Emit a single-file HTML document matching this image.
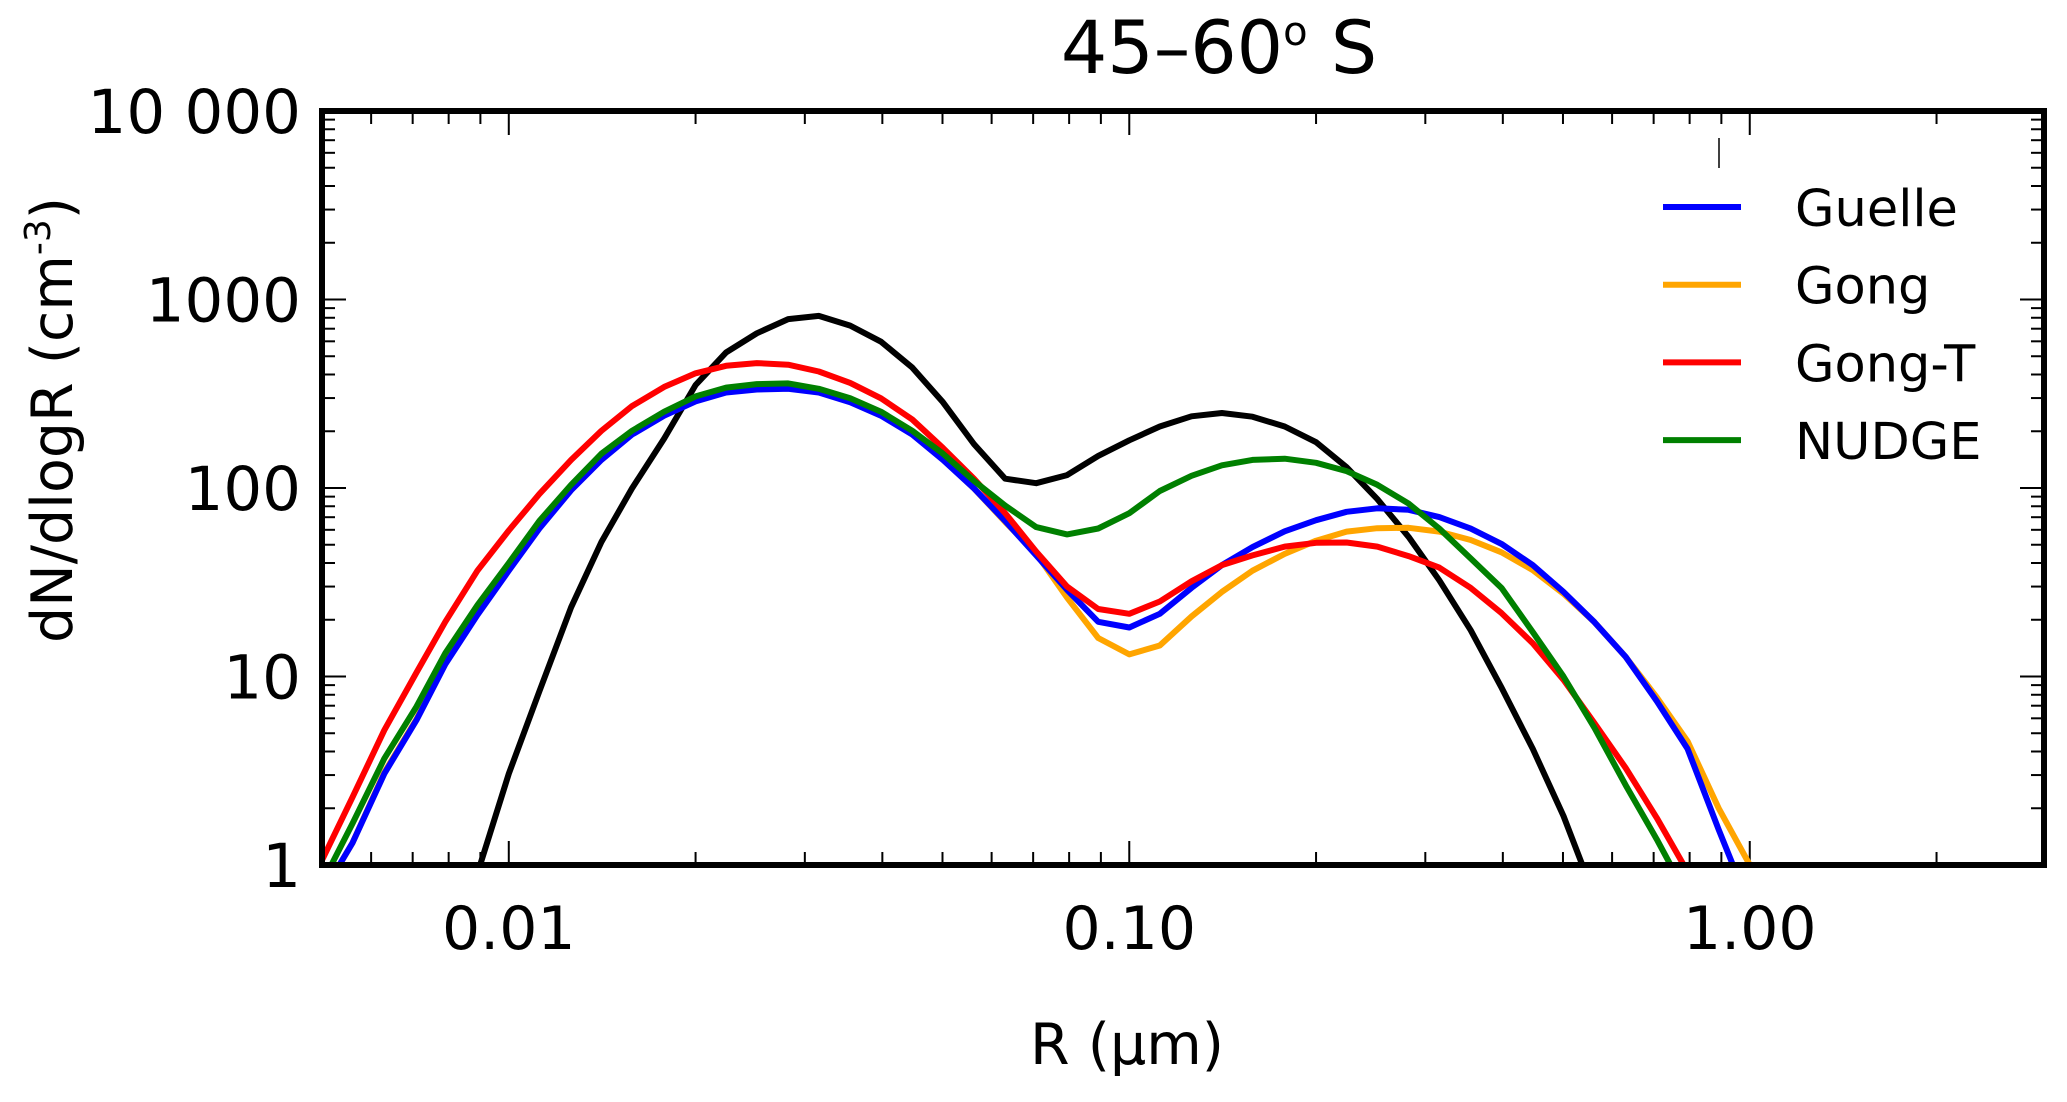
<!DOCTYPE html>
<html><head><meta charset="utf-8"><style>
html,body{margin:0;padding:0;background:#fff;}
svg text{font-family:"DejaVu Sans","Liberation Sans",sans-serif;fill:#000;}
</style></head><body>
<svg id="chart" width="2067" height="1097" viewBox="0 0 2067 1097" xmlns="http://www.w3.org/2000/svg">
<text x="1219" y="73" font-size="73" text-anchor="middle">45–60<tspan font-size="40" dy="-28">o</tspan><tspan dy="28"> S</tspan></text>
<text transform="translate(72,420) rotate(-90)" font-size="57" text-anchor="middle">dN/dlogR (cm<tspan font-size="36" dy="-22">-3</tspan><tspan dy="22">)</tspan></text>
<text x="1127" y="1064" font-size="57" text-anchor="middle">R (μm)</text>
<g id="ticks"></g>
<defs><clipPath id="pc"><rect x="322" y="111" width="1722" height="754"/></clipPath></defs>
<g id="lines" clip-path="url(#pc)"></g>
<rect x="322" y="111" width="1722" height="754" fill="none" stroke="#000" stroke-width="6"/>
<line x1="1719" y1="138" x2="1719" y2="168" stroke="#000" stroke-width="1.5"/>
<g id="legend"></g>
</svg>
<script>
const radius = [0.0050,0.0056,0.0063,0.0071,0.0079,0.0089,0.0100,0.0112,0.0126,0.0141,0.0158,0.0178,0.0200,0.0224,0.0251,0.0282,0.0316,0.0355,0.0398,0.0447,0.0501,0.0562,0.0631,0.0708,0.0794,0.0891,0.100,0.112,0.126,0.141,0.158,0.178,0.200,0.224,0.251,0.282,0.316,0.355,0.398,0.447,0.501,0.562,0.631,0.708,0.794,0.891,1.00];
const observed = [null,null,null,null,null,0.9,3.05,8.33,23.3,51.7,99.5,183,352,524,662,787,818,727,597,435,285,171,112,106,117,148,179,212,240,250,239,212,175,129,87.3,55,32.4,17.6,8.73,4.13,1.82,0.68,null,null,null,null,null];
const guelle = [0.7,1.31,3.05,5.87,11.6,21.2,36.4,60.9,97.2,141,192,242,288,321,333,336,321,285,242,192,141,99.5,66.8,43.9,28.8,19.5,18.2,21.5,29.5,39,48.6,58.9,67.5,74.8,78,76.6,70.1,60.9,50.5,39,28.1,19.4,12.7,7.41,4.13,1.54,0.6];
const gong = [0.7,1.31,3.1,5.95,11.8,21.6,37,62,99,144,196,248,295,330,343,346,330,292,246,194,142,99.5,66,44.9,26.2,16,13.1,14.6,20.8,28.1,36.4,44.7,52.5,58.7,61.2,61.5,58.7,53,45.6,36.7,27.5,19.4,12.7,7.77,4.53,2.0,1.0];
const gongT = [1.06,2.29,5.19,10.5,19.5,36.4,59.5,92.8,141,201,272,344,406,445,460,451,415,361,299,231,163,112,73.5,46,30,22.8,21.5,25,32,39,43.9,48.9,51.2,51.4,48.9,43.5,37.8,29.5,21.7,15,9.6,5.65,3.27,1.78,0.92,null,null];
const nudge = [0.8,1.66,3.67,6.92,13.3,23.9,40,66.8,104,152,201,254,306,341,356,359,336,299,254,201,152,109,80.7,62,56.7,61,73.5,96.4,116,132,141,143,136,123,104,82.6,60.9,42.3,29.5,17.2,10,5.34,2.65,1.37,0.68,null,null];
const seriesNames = ["Guelle","Gong","Gong-T","NUDGE"];
const xTickValues = [0.01,0.1,1];
const xTickLabels = ["0.01","0.10","1.00"];
const yTickValues = [1,10,100,1000,10000];
const yTickLabels = ["1","10","100","1000","10 000"];

const L=322,R=2044,T=111,B=865;
const xMin=Math.log10(0.005), xMax=Math.log10(2.98);
const yMin=0, yMax=4;
function xs(v){return L+(Math.log10(v)-xMin)/(xMax-xMin)*(R-L);}
function ys(v){return B-(Math.log10(v)-yMin)/(yMax-yMin)*(B-T);}
const NS="http://www.w3.org/2000/svg";
function mk(tag,attrs,parent){const e=document.createElementNS(NS,tag);for(const k in attrs)e.setAttribute(k,attrs[k]);parent.appendChild(e);return e;}

const tg=document.getElementById('ticks');
for(let d=-3; d<=0; d++){
  for(let m=1;m<=9;m++){
    const v=m*Math.pow(10,d);
    if(v<0.005||v>2.98) continue;
    const x=xs(v), len=(m===1)?24:13;
    const t1=mk('line',{x1:x,y1:B,x2:x,y2:B-len,stroke:'#000','stroke-width':2},tg);
    
    
    const t2=mk('line',{x1:x,y1:T,x2:x,y2:T+len,stroke:'#000','stroke-width':2},tg);
    
    
  }
}
xTickValues.forEach((v,i)=>{
  const t=mk('text',{x:xs(v),y:949,'font-size':60,'text-anchor':'middle'},tg);
  t.textContent=xTickLabels[i];
  
  
});
for(let d=0; d<4; d++){
  for(let m=1;m<=9;m++){
    const v=m*Math.pow(10,d);
    const y=ys(v), len=(m===1)?24:13;
    const t1=mk('line',{x1:L,y1:y,x2:L+len,y2:y,stroke:'#000','stroke-width':2},tg);
    
    
    const t2=mk('line',{x1:R,y1:y,x2:R-len,y2:y,stroke:'#000','stroke-width':2},tg);
    
    
  }
}
yTickValues.forEach((v,i)=>{
  const t=mk('text',{x:301,y:ys(v)+22,'font-size':61,'text-anchor':'end'},tg);
  t.textContent=yTickLabels[i];
  
  
});

const lg=document.getElementById('lines');
function drawLine(vals,color,name){
  let d='',pen=false;
  vals.forEach((v,i)=>{
    if(v===null||v===undefined){pen=false;return;}
    d+=(pen?'L':'M')+xs(radius[i]).toFixed(1)+','+ys(v).toFixed(1);
    pen=true;
  });
  const p=mk('path',{d:d,fill:'none',stroke:color,'stroke-width':6,'stroke-linejoin':'round'},lg);
  
  
}
drawLine(observed,'#000','observed-line');
drawLine(gong,'#ffa500','gong-line');
drawLine(guelle,'#0000ff','guelle-line');
drawLine(gongT,'#ff0000','gong-t-line');
drawLine(nudge,'#008000','nudge-line');

const leg=document.getElementById('legend');
const colors=['#0000ff','#ffa500','#ff0000','#008000'];
seriesNames.forEach((n,i)=>{
  const y=207+i*77.7;
  const l=mk('line',{x1:1663,y1:y,x2:1741,y2:y,stroke:colors[i],'stroke-width':6},leg);
  
  
  const t=mk('text',{x:1795,y:y+19,'font-size':51},leg);
  t.textContent=n;
  
  
});
</script>
</body></html>
